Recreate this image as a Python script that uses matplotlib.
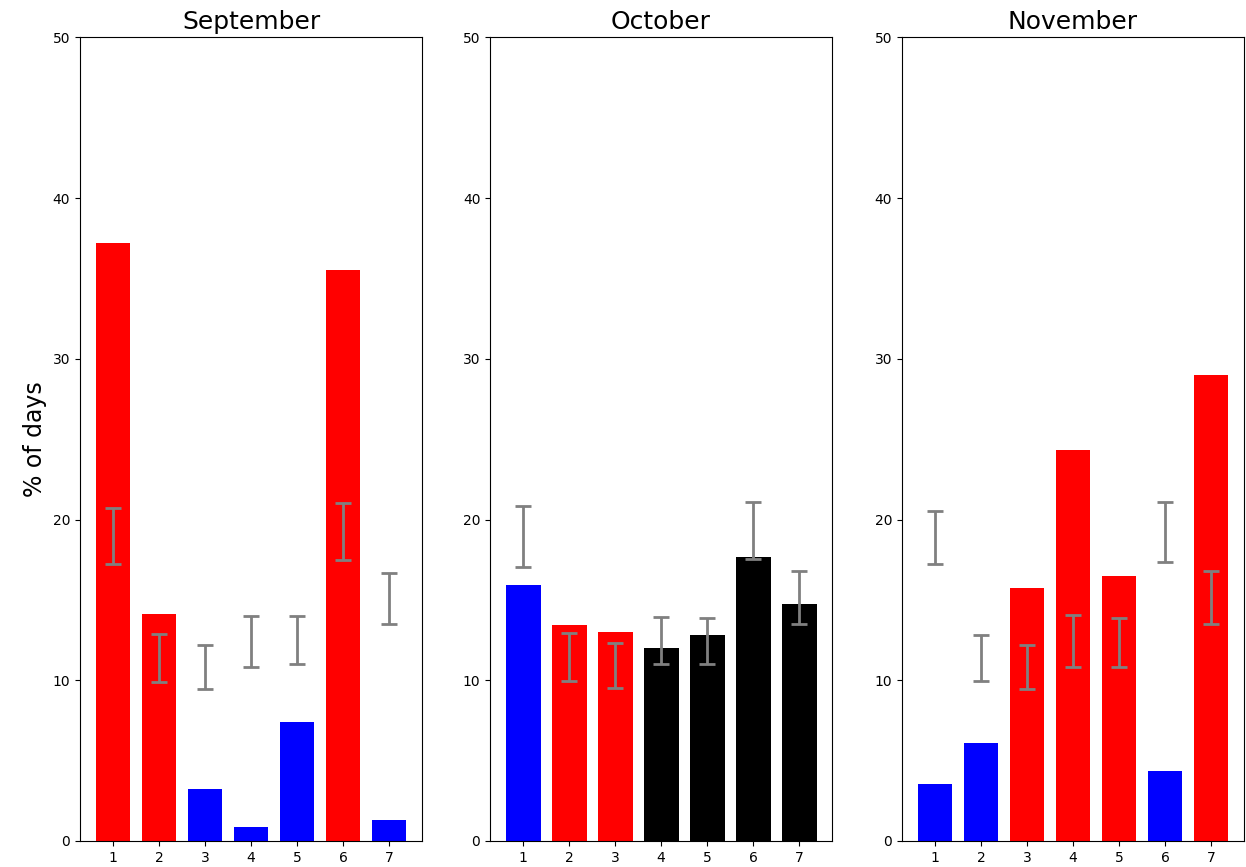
import matplotlib.pyplot as plt
import numpy as np

classes = [1, 2, 3, 4, 5, 6, 7]
months = ["September", "October", "November"]

# frequency of each class (% of days)
sep_vals = [37.2, 14.1, 3.25, 0.85, 7.4, 35.5, 1.32]
oct_vals = [15.95, 13.45, 13.0, 11.98, 12.8, 17.68, 14.75]
nov_vals = [3.52, 6.1, 15.75, 24.3, 16.5, 4.33, 29.0]

# bar colours
sep_cols = ["red", "red", "blue", "blue", "blue", "red", "blue"]
oct_cols = ["blue", "red", "red", "black", "black", "black", "black"]
nov_cols = ["blue", "blue", "red", "red", "red", "blue", "red"]

# lower / upper bounds of the reference range
sep_lo = [17.25, 9.9, 9.45, 10.8, 11.0, 17.5, 13.5]
sep_hi = [20.7, 12.9, 12.2, 14.0, 14.0, 21.0, 16.7]
oct_lo = [17.05, 9.97, 9.5, 11.0, 11.0, 17.52, 13.47]
oct_hi = [20.85, 12.94, 12.3, 13.95, 13.85, 21.08, 16.8]
nov_lo = [17.25, 9.97, 9.43, 10.82, 10.82, 17.35, 13.47]
nov_hi = [20.56, 12.83, 12.2, 14.03, 13.85, 21.1, 16.8]

vals = [sep_vals, oct_vals, nov_vals]
cols = [sep_cols, oct_cols, nov_cols]
los = [sep_lo, oct_lo, nov_lo]
his = [sep_hi, oct_hi, nov_hi]

fig = plt.figure(figsize=(12.46, 8.67), dpi=100)
lefts = [0.0642, 0.3933, 0.7239]
width = 0.2745

for k in range(3):
    ax = fig.add_axes([lefts[k], 0.030, width, 0.927])
    ax.bar(classes, vals[k], width=0.76, color=cols[k])
    lo = np.array(los[k])
    hi = np.array(his[k])
    mid = (lo + hi) / 2
    ax.errorbar(classes, mid, yerr=(hi - lo) / 2, fmt="none", ecolor="grey",
                elinewidth=2, capsize=6, capthick=2)
    ax.set_ylim(0, 50)
    ax.set_xticks(classes)
    ax.set_title(months[k], fontsize=18)
    if k == 0:
        ax.set_ylabel("% of days", fontsize=17)

plt.savefig("out.png")
